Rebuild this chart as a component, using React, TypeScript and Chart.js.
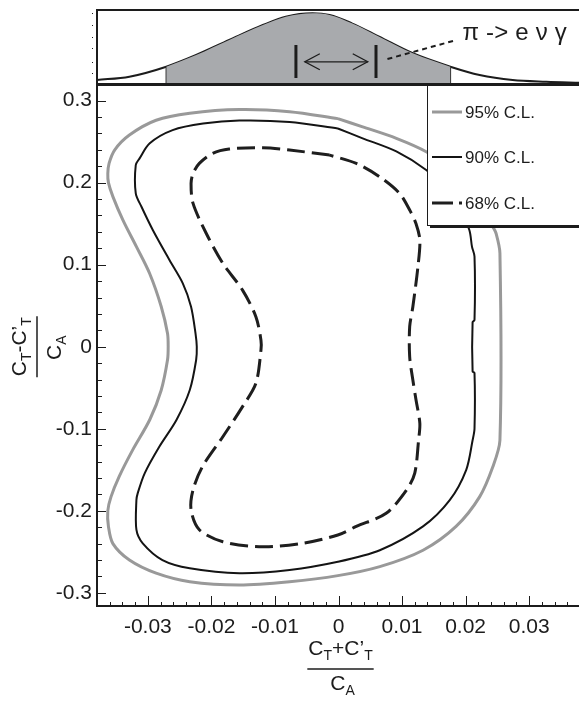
import React, { useEffect, useRef } from "react";
import { Chart, registerables } from "chart.js";
Chart.register(...registerables);

const FONT = "'Liberation Sans', Arial, Helvetica, sans-serif";
const INK = "#1c1c1c";

// ---- axis ranges / ticks ----
const xMin = -0.038;
const xMax = 0.038;
const yMin = -0.316;
const yMax = 0.319;
const xTickValues = [-0.03, -0.02, -0.01, 0, 0.01, 0.02, 0.03];
const xTickLabels = ["-0.03", "-0.02", "-0.01", "0", "0.01", "0.02", "0.03"];
const yTickValues = [-0.3, -0.2, -0.1, 0, 0.1, 0.2, 0.3];
const yTickLabels = ["-0.3", "-0.2", "-0.1", "0", "0.1", "0.2", "0.3"];
const xMinorStep = 0.002;
const yMinorStep = 0.02;

// ---- legend ----
const legendLabels = ["95% C.L.", "90% C.L.", "68% C.L."];

// ---- 95% C.L. contour ----
const cl95X = [-0.0001, -0.0077, -0.0156, -0.0234, -0.0287, -0.0329, -0.0352, -0.0361, -0.0363, -0.0362, -0.0355, -0.0339, -0.0318, -0.0297, -0.0279, -0.0269, -0.0268, -0.0269, -0.0279, -0.0297, -0.0324, -0.0345, -0.0358, -0.0363, -0.0362, -0.0355, -0.0329, -0.0287, -0.0234, -0.0156, -0.0077, -0.0001, 0.0065, 0.0133, 0.0185, 0.0222, 0.0243, 0.0254, 0.0254, 0.0248, 0.0243, 0.022, 0.018, 0.0138, 0.0091, 0.0038, -0.0001];
const cl95Y = [0.278, 0.2864, 0.289, 0.2845, 0.276, 0.258, 0.24, 0.2235, 0.211, 0.2, 0.183, 0.154, 0.122, 0.089, 0.049, 0.016, 0.0, -0.016, -0.053, -0.089, -0.126, -0.158, -0.183, -0.2, -0.219, -0.24, -0.26, -0.276, -0.2864, -0.2904, -0.2864, -0.279, -0.268, -0.248, -0.219, -0.183, -0.146, -0.114, 0.114, 0.138, 0.146, 0.18, 0.215, 0.2377, 0.254, 0.268, 0.278];

// ---- 90% C.L. contour ----
const cl90X = [-0.0001, -0.0077, -0.0156, -0.0213, -0.0261, -0.0297, -0.0313, -0.0319, -0.0319, -0.031, -0.0292, -0.0266, -0.0245, -0.0232, -0.0225, -0.0223, -0.0224, -0.0234, -0.0255, -0.0282, -0.0305, -0.0316, -0.0318, -0.0318, -0.0308, -0.0277, -0.0234, -0.0156, -0.0077, -0.0001, 0.0065, 0.0133, 0.0175, 0.0201, 0.0211, 0.0214, 0.0214, 0.0211, 0.0211, 0.0214, 0.0214, 0.021, 0.0206, 0.019, 0.0165, 0.0138, 0.0091, 0.0038, -0.0001];
const cl90Y = [0.266, 0.274, 0.2757, 0.272, 0.264, 0.248, 0.2296, 0.2215, 0.187, 0.1706, 0.142, 0.1057, 0.0773, 0.0488, 0.0163, 0.0, -0.0162, -0.0528, -0.0893, -0.1219, -0.1543, -0.1787, -0.187, -0.223, -0.2396, -0.26, -0.27, -0.276, -0.272, -0.262, -0.248, -0.219, -0.187, -0.15, -0.114, -0.1, -0.032, -0.03, 0.03, 0.0326, 0.11, 0.122, 0.142, 0.17, 0.195, 0.2154, 0.238, 0.254, 0.266];

// ---- 68% C.L. contour ----
const cl68X = [-0.0014, -0.0077, -0.0119, -0.0172, -0.0198, -0.0219, -0.0229, -0.0232, -0.0229, -0.0208, -0.0182, -0.0151, -0.013, -0.0122, -0.0122, -0.013, -0.0151, -0.0182, -0.0214, -0.0229, -0.0232, -0.0219, -0.0182, -0.0119, -0.0056, -0.0001, 0.0028, 0.0075, 0.0107, 0.012, 0.0126, 0.0128, 0.0122, 0.0117, 0.0112, 0.0112, 0.0117, 0.0125, 0.0128, 0.0122, 0.0112, 0.0096, 0.0065, 0.0028, -0.0014];
const cl68Y = [0.2336, 0.2397, 0.2425, 0.241, 0.2357, 0.2235, 0.211, 0.199, 0.175, 0.138, 0.1016, 0.069, 0.0366, 0.008, -0.004, -0.0446, -0.073, -0.1097, -0.146, -0.1747, -0.199, -0.223, -0.2377, -0.2438, -0.2396, -0.2295, -0.219, -0.203, -0.1747, -0.154, -0.1137, -0.0934, -0.065, -0.0406, -0.0122, 0.0244, 0.0488, 0.0975, 0.13, 0.15, 0.1666, 0.187, 0.207, 0.2235, 0.2336];

// ---- top panel: distribution ----
const gaussX = [-0.038, -0.0329, -0.0271, -0.0224, -0.0172, -0.0119, -0.0083, -0.0041, -0.0014, 0.0021, 0.0064, 0.0117, 0.0176, 0.0222, 0.0274, 0.0327, 0.038];
const gaussY = [0.054, 0.099, 0.234, 0.392, 0.595, 0.797, 0.909, 0.955, 0.932, 0.82, 0.639, 0.415, 0.234, 0.122, 0.054, 0.031, 0.018];
const bandLow = -0.0271;
const bandHigh = 0.0176;
const bandEdgeY = 0.234;
const arrowBarsX = [-0.0067, 0.0059];
const arrowBarsY = [0.081, 0.527];
const arrowLineX = [-0.0053, 0.0046];
const arrowLineY = 0.3;
const pointerX = [0.0077, 0.0186];
const pointerY = [0.338, 0.595];
const processText = "π -> e ν γ";
const processTextPos = { x: 0.0195, y: 0.69 };
const topDotsY = [0.149, 0.297, 0.486, 0.635, 0.8, 0.96];

const pts = (xs: number[], ys: number[]) => xs.map((x, i) => ({ x, y: ys[i] }));

function line(ctx: CanvasRenderingContext2D, x1: number, y1: number, x2: number, y2: number) {
  ctx.beginPath();
  ctx.moveTo(x1, y1);
  ctx.lineTo(x2, y2);
  ctx.stroke();
}

type Piece = { t: string; s: number; dy: number };
function piecesWidth(ctx: CanvasRenderingContext2D, ps: Piece[]) {
  let w = 0;
  for (const p of ps) {
    ctx.font = `${p.s}px ${FONT}`;
    w += ctx.measureText(p.t).width;
  }
  return w;
}
function drawPieces(ctx: CanvasRenderingContext2D, ps: Piece[], cx: number, base: number) {
  let x = cx - piecesWidth(ctx, ps) / 2;
  ctx.textAlign = "left";
  ctx.textBaseline = "alphabetic";
  for (const p of ps) {
    ctx.font = `${p.s}px ${FONT}`;
    ctx.fillText(p.t, x, base + p.dy);
    x += ctx.measureText(p.t).width;
  }
}

const numX: Piece[] = [
  { t: "C", s: 21, dy: 0 },
  { t: "T", s: 14, dy: 5 },
  { t: "+C’", s: 21, dy: 0 },
  { t: "T", s: 14, dy: 5 },
];
const numY: Piece[] = [
  { t: "C", s: 21, dy: 0 },
  { t: "T", s: 14, dy: 5 },
  { t: "-C’", s: 21, dy: 0 },
  { t: "T", s: 14, dy: 5 },
];
const den: Piece[] = [
  { t: "C", s: 21, dy: 0 },
  { t: "A", s: 14, dy: 5 },
];

const mainPlugin = {
  id: "mainDecor",
  afterDraw(chart: any) {
    const ctx: CanvasRenderingContext2D = chart.ctx;
    const { left, right, top, bottom } = chart.chartArea;
    const xs = chart.scales.x;
    const ys = chart.scales.y;
    ctx.save();
    ctx.strokeStyle = INK;
    ctx.fillStyle = INK;
    // ticks
    ctx.lineWidth = 1;
    for (let v = -0.036; v < xMax; v += xMinorStep) {
      const px = Math.round(xs.getPixelForValue(v)) + 0.5;
      line(ctx, px, bottom, px, bottom - 4);
    }
    for (const v of xTickValues) {
      const px = Math.round(xs.getPixelForValue(v)) + 0.5;
      line(ctx, px, bottom, px, bottom - 10);
    }
    for (let v = -0.3; v < yMax; v += yMinorStep) {
      const py = Math.round(ys.getPixelForValue(v)) + 0.5;
      line(ctx, left, py, left + 5, py);
    }
    for (const v of yTickValues) {
      const py = Math.round(ys.getPixelForValue(v)) + 0.5;
      line(ctx, left, py, left + 9, py);
    }
    // frame
    ctx.lineWidth = 2;
    line(ctx, left, top, right + 10, top);
    line(ctx, left, top - 1, left, bottom + 1);
    line(ctx, left - 1, bottom, right + 10, bottom);

    // legend box
    const lx = 427, ly = top, lw = 200, lh = 140;
    ctx.fillStyle = INK;
    ctx.fillRect(lx + 3, ly + 3, lw, lh);
    ctx.fillStyle = "#fff";
    ctx.fillRect(lx, ly, lw, lh);
    ctx.lineWidth = 1;
    ctx.strokeStyle = INK;
    ctx.strokeRect(lx + 0.5, ly + 0.5, lw, lh);
    const ds = chart.data.datasets;
    const rowY = [ly + 27, ly + 72, ly + 118];
    ds.forEach((d: any, i: number) => {
      ctx.save();
      ctx.strokeStyle = d.borderColor;
      ctx.lineWidth = d.borderWidth;
      if (d.borderDash) ctx.setLineDash([21, 6]);
      line(ctx, lx + 5, rowY[i], lx + 35, rowY[i]);
      ctx.restore();
      ctx.fillStyle = INK;
      ctx.font = `17px ${FONT}`;
      ctx.textAlign = "left";
      ctx.textBaseline = "middle";
      ctx.fillText(legendLabels[i], lx + 38, rowY[i] + 1);
    });

    // x title
    ctx.fillStyle = INK;
    ctx.strokeStyle = INK;
    const cx = (xs.getPixelForValue(0) as number) + 2;
    drawPieces(ctx, numX, cx, 655);
    const wx = piecesWidth(ctx, numX) + 2;
    ctx.lineWidth = 1.5;
    line(ctx, cx - wx / 2, 669, cx + wx / 2, 669);
    drawPieces(ctx, den, cx + 2, 690);

    // y title (rotated)
    const cy = ys.getPixelForValue(0) as number;
    ctx.save();
    ctx.translate(0, cy);
    ctx.rotate(-Math.PI / 2);
    drawPieces(ctx, numY, 0, 26);
    const wy = piecesWidth(ctx, numY) + 2;
    ctx.lineWidth = 1.5;
    line(ctx, -wy / 2, 37, wy / 2, 37);
    drawPieces(ctx, den, -1, 61);
    ctx.restore();
    ctx.restore();
  },
};

const topPlugin = {
  id: "topDecor",
  afterDraw(chart: any) {
    const ctx: CanvasRenderingContext2D = chart.ctx;
    const { left, right, top, bottom } = chart.chartArea;
    const xs = chart.scales.x;
    const ys = chart.scales.y;
    ctx.save();
    ctx.strokeStyle = INK;
    ctx.fillStyle = INK;
    ctx.lineWidth = 2;
    line(ctx, left - 1, top, right + 10, top);
    line(ctx, left, top, left, bottom);
    line(ctx, left, bottom, right + 10, bottom);
    // small dots left of the panel
    for (const v of topDotsY) {
      const py = Math.round(ys.getPixelForValue(v));
      ctx.fillRect(left - 5, py, 1, 1);
    }
    // double arrow with bars
    ctx.lineWidth = 3;
    for (const bx of arrowBarsX) {
      const px = xs.getPixelForValue(bx);
      line(ctx, px, ys.getPixelForValue(arrowBarsY[0]), px, ys.getPixelForValue(arrowBarsY[1]));
    }
    ctx.lineWidth = 1.3;
    const ay = ys.getPixelForValue(arrowLineY);
    const a1 = xs.getPixelForValue(arrowLineX[0]);
    const a2 = xs.getPixelForValue(arrowLineX[1]);
    line(ctx, a1, ay, a2, ay);
    ctx.beginPath();
    ctx.moveTo(a1 + 15, ay - 8);
    ctx.lineTo(a1, ay);
    ctx.lineTo(a1 + 15, ay + 8);
    ctx.stroke();
    ctx.beginPath();
    ctx.moveTo(a2 - 15, ay - 8);
    ctx.lineTo(a2, ay);
    ctx.lineTo(a2 - 15, ay + 8);
    ctx.stroke();
    // dashed pointer
    ctx.lineWidth = 2;
    ctx.setLineDash([5, 4]);
    line(ctx, xs.getPixelForValue(pointerX[0]), ys.getPixelForValue(pointerY[0]), xs.getPixelForValue(pointerX[1]), ys.getPixelForValue(pointerY[1]));
    ctx.setLineDash([]);
    // text
    ctx.font = `24px ${FONT}`;
    (ctx as any).letterSpacing = "0.2px";
    ctx.textAlign = "left";
    ctx.textBaseline = "middle";
    ctx.fillText(processText, xs.getPixelForValue(processTextPos.x), ys.getPixelForValue(processTextPos.y));
    (ctx as any).letterSpacing = "0px";
    ctx.restore();
  },
};

export default function App() {
  const topRef = useRef<HTMLCanvasElement>(null);
  const mainRef = useRef<HTMLCanvasElement>(null);

  useEffect(() => {
    const bandIdx = gaussX.map((x, i) => i).filter((i) => gaussX[i] >= bandLow - 1e-9 && gaussX[i] <= bandHigh + 1e-9);
    const topChart = new Chart(topRef.current as HTMLCanvasElement, {
      type: "line",
      data: {
        datasets: [
          {
            data: bandIdx.map((i) => ({ x: gaussX[i], y: gaussY[i] })),
            borderWidth: 0,
            borderColor: "rgba(0,0,0,0)",
            backgroundColor: "#a8aaad",
            fill: "origin",
            pointRadius: 0,
            cubicInterpolationMode: "monotone",
          },
          {
            data: [{ x: bandLow, y: 0 }, { x: bandLow, y: bandEdgeY }],
            borderColor: "#333",
            borderWidth: 1.5,
            pointRadius: 0,
            fill: false,
          },
          {
            data: [{ x: bandHigh, y: 0 }, { x: bandHigh, y: bandEdgeY }],
            borderColor: "#333",
            borderWidth: 1.5,
            pointRadius: 0,
            fill: false,
          },
          {
            data: pts(gaussX, gaussY),
            borderColor: INK,
            borderWidth: 2,
            pointRadius: 0,
            fill: false,
            cubicInterpolationMode: "monotone",
          },
        ] as any,
      },
      options: {
        responsive: false,
        animation: false,
        devicePixelRatio: 1,
        layout: { padding: { left: 97, right: 10, top: 10, bottom: 6 } },
        plugins: { legend: { display: false }, tooltip: { enabled: false } },
        scales: {
          x: { type: "linear", min: xMin, max: xMax, display: false },
          y: { type: "linear", min: 0, max: 1, display: false },
        },
      },
      plugins: [topPlugin],
    });

    const mainChart = new Chart(mainRef.current as HTMLCanvasElement, {
      type: "line",
      data: {
        datasets: [
          {
            label: legendLabels[0],
            data: pts(cl95X, cl95Y),
            borderColor: "#999999",
            borderWidth: 3,
            pointRadius: 0,
            tension: 0.3,
            fill: false,
          },
          {
            label: legendLabels[1],
            data: pts(cl90X, cl90Y),
            borderColor: "#141414",
            borderWidth: 2,
            pointRadius: 0,
            tension: 0.3,
            fill: false,
          },
          {
            label: legendLabels[2],
            data: pts(cl68X, cl68Y),
            borderColor: "#1e1e1e",
            borderWidth: 3,
            borderDash: [18, 7],
            pointRadius: 0,
            tension: 0.3,
            fill: false,
          },
        ] as any,
      },
      options: {
        responsive: false,
        animation: false,
        devicePixelRatio: 1,
        layout: { padding: { left: 0, right: 10, top: 85, bottom: 0 } },
        plugins: { legend: { display: false }, tooltip: { enabled: false } },
        scales: {
          x: {
            type: "linear",
            min: xMin,
            max: xMax,
            grid: { display: false, drawTicks: false },
            border: { display: false },
            afterBuildTicks: (s: any) => {
              s.ticks = xTickValues.map((v) => ({ value: v }));
            },
            afterFit: (s: any) => {
              s.height = 100;
            },
            ticks: {
              autoSkip: false,
              maxRotation: 0,
              padding: 9,
              color: INK,
              font: { family: FONT, size: 21 },
              callback: (_v: any, i: number) => xTickLabels[i],
            },
          },
          y: {
            type: "linear",
            min: yMin,
            max: yMax,
            grid: { display: false, drawTicks: false },
            border: { display: false },
            afterBuildTicks: (s: any) => {
              s.ticks = yTickValues.map((v) => ({ value: v }));
            },
            afterFit: (s: any) => {
              s.width = 97;
            },
            ticks: {
              autoSkip: false,
              padding: 5,
              color: INK,
              font: { family: FONT, size: 21 },
              callback: (_v: any, i: number) => yTickLabels[i],
            },
          },
        },
      },
      plugins: [mainPlugin],
    });

    return () => {
      topChart.destroy();
      mainChart.destroy();
    };
  }, []);

  return (
    <div style={{ position: "fixed", left: 0, top: 0, width: 579, height: 706, overflow: "hidden", background: "#fff" }}>
      <canvas ref={topRef} width={590} height={90} style={{ position: "absolute", left: 0, top: 0 }} />
      <canvas ref={mainRef} width={590} height={706} style={{ position: "absolute", left: 0, top: 0 }} />
    </div>
  );
}
